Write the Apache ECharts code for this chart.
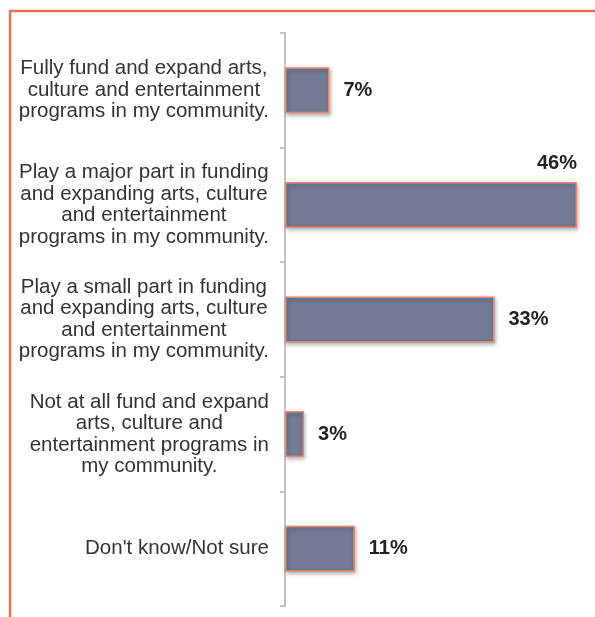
<!DOCTYPE html>
<html>
<head>
<meta charset="utf-8">
<script src="https://cdn.jsdelivr.net/npm/echarts@6/dist/echarts.min.js"></script>
<style>
  html, body { margin: 0; padding: 0; background: #fff; }
  #chart { width: 595px; height: 617px; }
</style>
</head>
<body>
<div id="chart"></div>
<script>
// Survey answers, top to bottom
const categories = [
  'Fully fund and expand arts,\nculture and entertainment\nprograms in my community.',
  'Play a major part in funding\nand expanding arts, culture\nand entertainment\nprograms in my community.',
  'Play a small part in funding\nand expanding arts, culture\nand entertainment\nprograms in my community.',
  'Not at all fund and expand\narts, culture and\nentertainment programs in\nmy community.',
  "Don't know/Not sure"
];
// Share of respondents, percent
const values = [7, 46, 33, 3, 11];
// Which bar carries its label above instead of to the right
const labelAbove = [false, true, false, false, false];

const font = 'Liberation Sans, Arial, sans-serif';
const chart = echarts.init(document.getElementById('chart'));

const barData = values.map((v, i) => {
  const item = { value: v };
  if (labelAbove[i]) {
    item.label = { position: ['100%', -28], align: 'right', verticalAlign: 'top', distance: 0 };
  }
  return item;
});

chart.setOption({
  animation: false,
  grid: { left: 285, right: 18, top: 33, bottom: 11, containLabel: false },
  xAxis: {
    type: 'value', min: 0, max: 46,
    show: false
  },
  yAxis: {
    type: 'category',
    inverse: true,
    data: categories,
    axisLine: { show: true, lineStyle: { color: '#b0b0b0', width: 1.5 } },
    axisTick: { show: true, length: 5, lineStyle: { color: '#b0b0b0', width: 1.5 } },
    axisLabel: {
      margin: 16,
      formatter: (t) => t.split('\n').map(l => '{c|' + l + '}').join('\n'),
      rich: {
        c: { align: 'center', fontSize: 20.5, lineHeight: 21.5, color: '#333', fontFamily: font }
      }
    }
  },
  series: [{
    type: 'bar',
    data: barData,
    barWidth: 46,
    itemStyle: {
      color: '#737a93',
      borderColor: '#e8866e',
      borderWidth: 1.5,
      shadowColor: 'rgba(0,0,0,0.3)',
      shadowBlur: 4,
      shadowOffsetY: 2,
      shadowOffsetX: 1
    },
    label: {
      show: true,
      position: 'right',
      distance: 14,
      formatter: '{c}%',
      color: '#222',
      fontWeight: 'bold',
      fontSize: 20,
      fontFamily: font
    }
  }],
  graphic: [{
    type: 'polyline',
    silent: true,
    shape: { points: [[10, 617], [10, 11], [595, 11]] },
    style: { stroke: '#e07552', lineWidth: 2.5, fill: null }
  }]
});
</script>
</body>
</html>
